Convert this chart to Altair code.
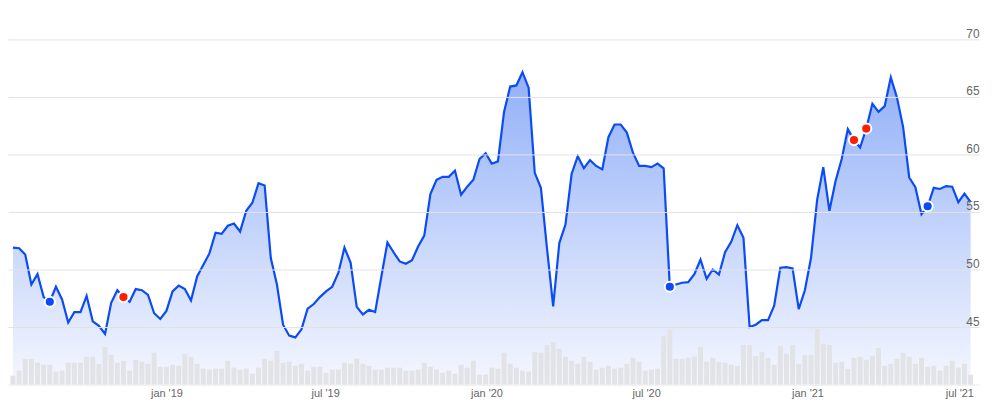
import altair as alt
import pandas as pd

# ---- data (weekly closes + volume) ----
start_date = "2018-07-10"
price = [
    51.9, 51.85, 51.3, 48.7, 49.6, 47.6, 47.2, 48.5, 47.4, 45.4,
    46.3, 46.3, 47.7, 45.5, 45.1, 44.4, 47.1, 48.2, 47.6, 47.2,
    48.3, 48.2, 47.8, 46.2, 45.7, 46.4, 48.1, 48.6, 48.3, 47.3,
    49.4, 50.4, 51.4, 53.2, 53.1, 53.8, 54.0, 53.3, 55.1, 55.8,
    57.5, 57.3, 51.0, 48.7, 45.2, 44.25, 44.1, 44.8, 46.6, 47.0,
    47.6, 48.1, 48.5, 49.7, 51.9, 50.6, 46.75, 46.1, 46.5, 46.3,
    49.35, 52.35, 51.5, 50.7, 50.5, 50.8, 52.0, 52.95, 56.55, 57.8,
    58.05, 58.05, 58.6, 56.5, 57.2, 57.8, 59.6, 60.1, 59.2, 59.4,
    63.7, 65.9, 66.0, 67.15, 65.8, 58.4, 57.1, 51.8, 46.8, 52.3,
    53.9, 58.3, 59.85, 58.8, 59.5, 59.0, 58.7, 61.5, 62.6, 62.6,
    61.9, 60.15, 59.0, 59.0, 58.9, 59.2, 58.8, 48.5, 48.7, 48.85,
    48.9, 49.6, 50.85, 49.2, 50.0, 49.55, 51.5, 52.4, 53.85, 52.75,
    45.0, 45.2, 45.6, 45.6, 46.85, 50.15, 50.2, 50.1, 46.55, 48.2,
    51.0, 56.05, 58.9, 55.1, 57.7, 59.6, 62.2, 61.25, 60.6, 62.25,
    64.4, 63.7, 64.2, 66.7, 64.95, 62.4, 58.0, 57.15, 54.8, 55.5,
    57.1, 57.0, 57.25, 57.2, 55.85, 56.6, 55.85,
]
volume = [
    9, 14, 26, 26, 22, 20, 20, 13, 14, 22,
    22, 22, 28, 28, 21, 38, 30, 22, 24, 14,
    25, 23, 21, 32, 18, 18, 20, 19, 31, 28,
    21, 16, 15, 16, 16, 24, 17, 15, 16, 11,
    17, 26, 24, 34, 22, 23, 19, 21, 14, 18,
    18, 12, 15, 15, 22, 21, 26, 21, 19, 15,
    15, 17, 17, 17, 14, 14, 15, 22, 18, 15,
    12, 14, 11, 20, 17, 24, 10, 10, 17,
    16, 32, 21, 17, 14, 13, 33, 32, 40, 43,
    36, 28, 24, 21, 28, 23, 15, 17, 19, 16,
    17, 21, 27, 23, 14, 15, 16, 49, 55, 26,
    26, 27, 28, 38, 23, 27, 23, 22, 20, 19,
    40, 40, 29, 33, 27, 20, 39, 31, 40, 21,
    30, 30, 56, 41, 40, 22, 23, 16, 27, 28,
    25, 29, 37, 19, 21, 26, 32, 28, 21, 27,
    18, 19, 14, 19, 24, 17, 21, 10,
]
marker_index = [6, 18, 107, 137, 139, 149]
marker_kind = ["div", "earn", "div", "earn", "earn", "div"]
x_ticks = ["2019-01-01", "2019-07-01", "2020-01-01", "2020-07-01", "2021-01-01", "2021-07-01"]
y_ticks = [45, 50, 55, 60, 65, 70]

dates = pd.date_range(start_date, periods=len(price), freq="7D")
df = pd.DataFrame({
    "date": dates.strftime("%Y-%m-%dT00:00:00"),
    "price": price,
    "volume": volume,
})
mk = pd.DataFrame({
    "date": [dates[i].strftime("%Y-%m-%dT00:00:00") for i in marker_index],
    "price": [price[i] for i in marker_index],
    "kind": marker_kind,
})


def dt(s):
    y, m, d = (int(p) for p in s.split("-"))
    return alt.DateTime(year=y, month=m, date=d)


W, H = 979, 348
LINE = "#0b4bf5"

xscale = alt.Scale(domain=[dt("2018-07-10"), dt("2021-07-10")])
xaxis = alt.Axis(
    values=[dt(s) for s in x_ticks],
    labelExpr="lower(timeFormat(datum.value, \"%b '%y\"))",
    grid=False, ticks=False, tickSize=0, domain=True, domainColor="#e8e8e8",
    labelColor="#666666", labelFontSize=11, labelFont="Liberation Sans",
    labelPadding=3, labelFlush=False,
    labelOffset={"condition": {"test": "year(datum.value) == 2021 && month(datum.value) == 6", "value": -7}, "value": 0},
    title=None,
)
yscale = alt.Scale(domain=[40, 70], nice=False, zero=False)
yaxis = alt.Axis(
    values=y_ticks, orient="right", grid=True, gridColor="#e3e3e6",
    ticks=False, tickSize=0, domain=False, labelAlign="right",
    labelBaseline="alphabetic", labelOffset=-2, labelPadding=0,
    labelColor="#666666", labelFontSize=12, labelFont="Liberation Sans", title=None,
    zindex=1,
)

base = alt.Chart(df)
x = alt.X("date:T", scale=xscale, axis=xaxis)

area = base.mark_area(
    color=alt.Gradient(
        gradient="linear",
        stops=[alt.GradientStop(color="#92b0f8", offset=0),
               alt.GradientStop(color="#f5f7fe", offset=1)],
        x1=1, x2=1, y1=0, y2=1,
    ),
    interpolate="linear",
).encode(x=x, y=alt.Y("price:Q", scale=yscale, axis=yaxis), y2=alt.datum(40))

line = base.mark_line(color=LINE, strokeWidth=2.2).encode(
    x=x, y=alt.Y("price:Q", scale=yscale, axis=yaxis)
)

bars = base.mark_bar(color="#e2e3e7", size=5).encode(
    x=x,
    y=alt.Y("volume:Q", scale=alt.Scale(domain=[0, 348], nice=False), axis=None),
)

points = alt.Chart(mk).mark_circle(size=105, opacity=1, stroke="white", strokeWidth=2).encode(
    x=x,
    y=alt.Y("price:Q", scale=yscale, axis=yaxis),
    color=alt.Color("kind:N", scale=alt.Scale(domain=["div", "earn"], range=[LINE, "#ff1e00"]), legend=None),
)

price_layer = alt.layer(area, line, points)
chart = alt.layer(price_layer, bars).resolve_scale(y="independent").properties(
    width=W, height=H,
    padding={"left": 0, "top": 30, "right": 10, "bottom": 24},
    autosize=alt.AutoSizeParams(type="none"),
    background="white",
).configure_view(stroke=None)

chart.save("out.html", embed_options={"renderer": "svg", "actions": False})
